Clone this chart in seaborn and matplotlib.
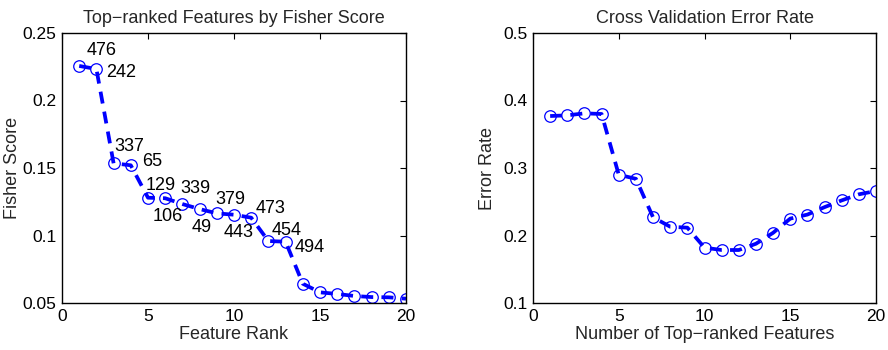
import matplotlib
matplotlib.use("Agg")
import matplotlib.pyplot as plt
import seaborn as sns
import pandas as pd

# ---- data ----
rank = list(range(1, 21))
fisher_score = [0.2256, 0.2233, 0.1535, 0.152, 0.128, 0.1276, 0.1233, 0.1196, 0.1164, 0.1154,
                0.1132, 0.0959, 0.0954, 0.0643, 0.0579, 0.0567, 0.0552, 0.0544, 0.0542, 0.0532]
feature_ids = ["476", "242", "337", "65", "129", "106", "339", "49", "379", "443",
               "473", "454", "494"]
label_x = [1.45, 2.56, 3.02, 4.63, 4.86, 5.25, 6.86, 7.54, 8.9, 9.38, 11.28, 12.19, 13.55]
label_y = [0.2374, 0.2206, 0.1658, 0.155, 0.1369, 0.1139, 0.135, 0.1058, 0.1263, 0.1021,
           0.1201, 0.104, 0.0909]

n_features = list(range(1, 21))
error_rate = [0.377, 0.378, 0.381, 0.380, 0.290, 0.284, 0.227, 0.213, 0.2116, 0.182,
              0.1785, 0.1785, 0.1878, 0.204, 0.225, 0.231, 0.242, 0.252, 0.261, 0.266]

left_yticks = [0.05, 0.1, 0.15, 0.2, 0.25]
left_yticklabels = ["0.05", "0.1", "0.15", "0.2", "0.25"]
right_yticks = [0.1, 0.2, 0.3, 0.4, 0.5]
right_yticklabels = ["0.1", "0.2", "0.3", "0.4", "0.5"]
xticks = [0, 5, 10, 15, 20]

sns.set_style("white")
plt.rcParams['font.family'] = ['Liberation Sans', 'DejaVu Sans']
plt.rcParams['axes.linewidth'] = 1.0

fig = plt.figure(figsize=(8.88, 3.5), dpi=100)
ax1 = fig.add_axes([62 / 888, 47 / 350, 344 / 888, 270 / 350])
ax2 = fig.add_axes([533 / 888, 47 / 350, 343 / 888, 270 / 350])

style = dict(color="#0000ff", linestyle="--", linewidth=2.7, marker="o", markersize=8.3,
             markerfacecolor="none", markeredgecolor="#0000ff", markeredgewidth=0.9)
style_dashes = (3.2, 2.2)

df1 = pd.DataFrame({"rank": rank, "score": fisher_score})
df2 = pd.DataFrame({"n": n_features, "err": error_rate})
sns.lineplot(data=df1, x="rank", y="score", ax=ax1, **style)
sns.lineplot(data=df2, x="n", y="err", ax=ax2, **style)
for ax in (ax1, ax2):
    for ln in ax.get_lines():
        ln.set_dashes(style_dashes)

for t, x, y in zip(feature_ids, label_x, label_y):
    ax1.text(x, y, t, ha="left", va="center", fontsize=13, color="black")

for ax, yt, ytl, ylim in ((ax1, left_yticks, left_yticklabels, (0.05, 0.25)),
                          (ax2, right_yticks, right_yticklabels, (0.1, 0.5))):
    ax.set_xlim(0, 20)
    ax.set_ylim(*ylim)
    ax.set_xticks(xticks)
    ax.set_xticklabels([str(v) for v in xticks])
    ax.set_yticks(yt)
    ax.set_yticklabels(ytl)
    ax.tick_params(direction="in", top=True, right=True, length=4, width=0.8,
                   labelsize=12.5, colors="black", pad=4)
    for s in ax.spines.values():
        s.set_visible(True)
        s.set_color("black")
        s.set_linewidth(1.0)

ax1.set_title("Top\u2212ranked Features by Fisher Score", fontsize=13, pad=7)
ax1.set_xlabel("Feature Rank", fontsize=13, labelpad=2)
ax1.set_ylabel("Fisher Score", fontsize=13, labelpad=1)
ax2.set_title("Cross Validation Error Rate", fontsize=13, pad=7)
ax2.set_xlabel("Number of Top\u2212ranked Features", fontsize=13, labelpad=2)
ax2.set_ylabel("Error Rate", fontsize=13, labelpad=5)

fig.savefig("out.png", dpi=100)
